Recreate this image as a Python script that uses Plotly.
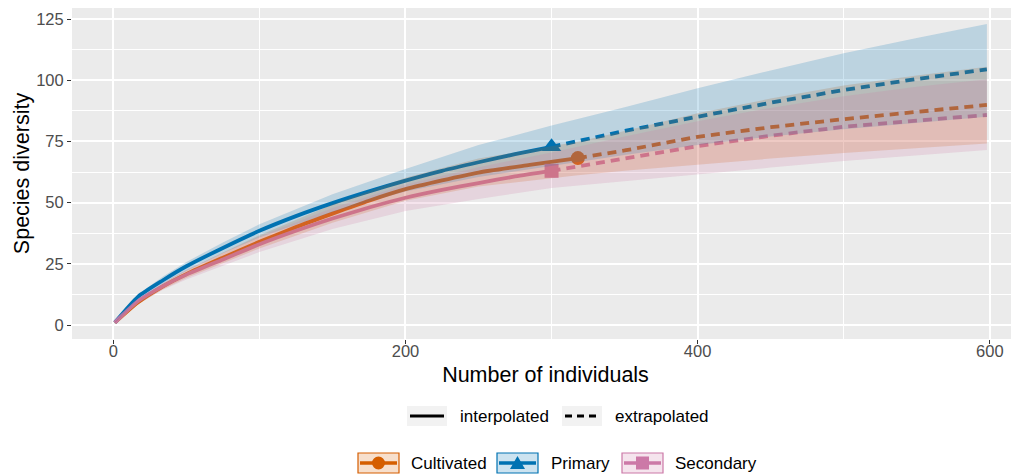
import plotly.graph_objects as go

# ---------------- data ----------------
groups = ["Cultivated", "Primary", "Secondary"]
colors = {"Cultivated": "#D55E00", "Primary": "#0072B2", "Secondary": "#CC79A7"}
fills = {"Cultivated": "rgba(213,94,0,0.2)", "Primary": "rgba(0,114,178,0.2)", "Secondary": "rgba(204,121,167,0.2)"}
symbols = {"Cultivated": "circle", "Primary": "triangle-up", "Secondary": "square"}

# interpolated (rarefaction) curves
cult_interp_x = [1, 17, 34, 50, 75, 100, 125, 150, 175, 200, 225, 250, 285, 318]
cult_interp_y = [1, 9.3, 15.8, 20.8, 27.5, 34, 40, 45.5, 50.8, 55.5, 59.1, 62.3, 65.4, 68.2]
prim_interp_x = [1, 17, 34, 50, 75, 100, 125, 150, 175, 200, 225, 250, 275, 300]
prim_interp_y = [1, 11.6, 18.3, 24, 31.5, 38.5, 44.5, 49.8, 54.6, 59, 63, 66.5, 69.8, 72.8]
seco_interp_x = [1, 17, 34, 50, 75, 100, 125, 150, 175, 200, 225, 250, 275, 300]
seco_interp_y = [1, 9.8, 15.9, 20.6, 26.8, 33, 38.5, 43.5, 48, 52, 55.2, 58, 60.7, 63]

# extrapolated curves
cult_extrap_x = [318, 350, 400, 450, 500, 550, 598]
cult_extrap_y = [68.2, 71.3, 76.9, 80.8, 84.1, 87.2, 89.9]
prim_extrap_x = [300, 350, 400, 450, 500, 550, 598]
prim_extrap_y = [72.8, 79.3, 85.1, 90.8, 96, 100.5, 104.4]
seco_extrap_x = [300, 350, 400, 450, 500, 550, 598]
seco_extrap_y = [63, 68.2, 73.1, 77.3, 81, 83.5, 85.8]

# observed sample (reference point)
obs_x = {"Cultivated": 318, "Primary": 300, "Secondary": 300}
obs_y = {"Cultivated": 68.2, "Primary": 72.8, "Secondary": 63}

# 95% confidence bands
cult_ci_x = [1, 17, 34, 50, 75, 100, 150, 200, 250, 318, 350, 400, 450, 500, 550, 598]
cult_ci_lo = [0.8, 8.5, 14.6, 19.2, 25.4, 31.3, 41.8, 50.8, 56.6, 61.2, 63, 65.6, 68, 70.3, 72.3, 74.2]
cult_ci_hi = [1.2, 10.1, 17, 22.4, 29.6, 36.7, 49.2, 60.2, 68, 74.9, 79.3, 86.5, 92.5, 97.8, 101.9, 105.5]
prim_ci_x = [1, 17, 34, 50, 75, 100, 150, 200, 250, 300, 350, 400, 450, 500, 550, 598]
prim_ci_lo = [0.8, 10.6, 16.8, 22.2, 29.3, 35.8, 46.2, 54.5, 60.5, 65, 69.5, 73.5, 77, 80, 82.7, 85.1]
prim_ci_hi = [1.2, 12.6, 19.8, 25.8, 33.7, 41.2, 53.4, 63.7, 73.5, 81.5, 89, 96.7, 104, 111, 117.2, 123]
seco_ci_x = [1, 17, 34, 50, 75, 100, 150, 200, 250, 300, 350, 400, 450, 500, 550, 598]
seco_ci_lo = [0.8, 8.8, 14.4, 18.6, 24.2, 29.8, 39.2, 46.6, 51.5, 56, 58.8, 61.5, 64.3, 67, 69.3, 71.5]
seco_ci_hi = [1.2, 10.8, 17.4, 22.6, 29.4, 36.2, 47.8, 57.4, 64.5, 70.5, 77, 83.2, 88.7, 93.5, 97.3, 100.4]

x_ticks = [0, 200, 400, 600]
y_ticks = [0, 25, 50, 75, 100, 125]
x_title = "Number of individuals"
y_title = "Species diversity"
linetype_labels = ["interpolated", "extrapolated"]

series = {
    "Cultivated": (cult_interp_x, cult_interp_y, cult_extrap_x, cult_extrap_y, cult_ci_x, cult_ci_lo, cult_ci_hi),
    "Primary": (prim_interp_x, prim_interp_y, prim_extrap_x, prim_extrap_y, prim_ci_x, prim_ci_lo, prim_ci_hi),
    "Secondary": (seco_interp_x, seco_interp_y, seco_extrap_x, seco_extrap_y, seco_ci_x, seco_ci_lo, seco_ci_hi),
}

FONT = "Liberation Sans, Arial, Helvetica, sans-serif"
fig = go.Figure()

# lines + markers (drawn first, ribbons overlay them as in ggiNEXT)
for g in groups:
    ix, iy, ex, ey, cx, lo, hi = series[g]
    fig.add_trace(go.Scatter(x=ix, y=iy, mode="lines", line=dict(color=colors[g], width=3.8, shape="spline", smoothing=0.6),
                             showlegend=False, hoverinfo="skip"))
    fig.add_trace(go.Scatter(x=ex, y=ey, mode="lines", line=dict(color=colors[g], width=3.8, dash="9px,6px"),
                             showlegend=False, hoverinfo="skip"))
for g in groups:
    fig.add_trace(go.Scatter(x=[obs_x[g]], y=[obs_y[g]], mode="markers",
                             marker=dict(color=colors[g], symbol=symbols[g], size=17 if g == "Primary" else 14,
                                         line=dict(width=0)),
                             showlegend=False, hoverinfo="skip"))
for g in groups:
    ix, iy, ex, ey, cx, lo, hi = series[g]
    fig.add_trace(go.Scatter(x=list(cx) + list(cx)[::-1], y=list(hi) + list(lo)[::-1], mode="lines",
                             fill="toself", fillcolor=fills[g], line=dict(width=0),
                             showlegend=False, hoverinfo="skip"))

# page has an 8px body margin: figure is offset by (8, 8)
OFF = 8
W, H = 1011, 467
ML, MR, MT, MB = 64, 0, 0, 136
PW, PH = W - ML - MR, H - MT - MB


def PX(x):  # page pixel -> paper
    return (x - OFF - ML) / PW


def PY(y):  # page pixel -> paper
    return (H - MB - (y - OFF)) / PH


shapes = []
annotations = []

# ---- linetype legend (row 1) ----
row1 = 416
for (bx0, bx1, tx, label, dash) in [(407, 447, 458, linetype_labels[0], "solid"),
                                     (562, 602, 613, linetype_labels[1], "7px,5px")]:
    shapes.append(dict(type="rect", xref="paper", yref="paper", x0=PX(bx0), x1=PX(bx1),
                       y0=PY(row1 + 10), y1=PY(row1 - 10), fillcolor="#F2F2F2", line=dict(width=0), layer="above"))
    shapes.append(dict(type="line", xref="paper", yref="paper", x0=PX(bx0 + 3), x1=PX(bx1 - 3),
                       y0=PY(row1), y1=PY(row1), line=dict(color="black", width=3.2, dash=dash), layer="above"))
    annotations.append(dict(text=label, xref="paper", yref="paper", x=PX(tx), y=PY(row1), xanchor="left",
                            yanchor="middle", showarrow=False, font=dict(size=17, color="black", family=FONT)))

# ---- group legend (row 2) ----
row2 = 463
for g, bx0, tx in [("Cultivated", 358, 409), ("Primary", 497, 549), ("Secondary", 622, 673)]:
    bx1 = bx0 + 41
    shapes.append(dict(type="rect", xref="paper", yref="paper", x0=PX(bx0), x1=PX(bx1),
                       y0=PY(row2 + 10), y1=PY(row2 - 10), fillcolor=fills[g],
                       line=dict(color=colors[g], width=1.2), layer="above"))
    shapes.append(dict(type="line", xref="paper", yref="paper", x0=PX(bx0 + 2), x1=PX(bx1 - 2),
                       y0=PY(row2), y1=PY(row2), line=dict(color=colors[g], width=3.6), layer="above"))
    cx = (bx0 + bx1) / 2
    if g == "Cultivated":
        shapes.append(dict(type="circle", xref="paper", yref="paper", x0=PX(cx - 6.5), x1=PX(cx + 6.5),
                           y0=PY(row2 + 6.5), y1=PY(row2 - 6.5), fillcolor=colors[g], line=dict(width=0),
                           layer="above"))
    elif g == "Primary":
        path = "M {:.5f} {:.5f} L {:.5f} {:.5f} L {:.5f} {:.5f} Z".format(
            PX(cx - 7.5), PY(row2 + 6), PX(cx + 7.5), PY(row2 + 6), PX(cx), PY(row2 - 7))
        shapes.append(dict(type="path", xref="paper", yref="paper", path=path, fillcolor=colors[g],
                           line=dict(width=0), layer="above"))
    else:
        shapes.append(dict(type="rect", xref="paper", yref="paper", x0=PX(cx - 6.5), x1=PX(cx + 6.5),
                           y0=PY(row2 + 6.5), y1=PY(row2 - 6.5), fillcolor=colors[g], line=dict(width=0),
                           layer="above"))
    annotations.append(dict(text=g, xref="paper", yref="paper", x=PX(tx), y=PY(row2), xanchor="left",
                            yanchor="middle", showarrow=False, font=dict(size=17, color="black", family=FONT)))

fig.update_layout(
    width=W, height=H,
    margin=dict(l=ML, r=MR, t=MT, b=MB, pad=0),
    paper_bgcolor="white", plot_bgcolor="#EBEBEB",
    font=dict(family=FONT, color="#4D4D4D"),
    showlegend=False,
    shapes=shapes, annotations=annotations,
    xaxis=dict(range=[-28.3, 620], tickvals=x_ticks, ticks="outside", ticklen=4, tickwidth=1.1,
               tickcolor="#333333", tickfont=dict(size=16.5, color="#4D4D4D"), ticklabelstandoff=-7,
               showgrid=True, gridcolor="white", gridwidth=1.6, zeroline=False, showline=False,
               minor=dict(tickvals=[100, 300, 500], showgrid=True, gridcolor="white", gridwidth=0.8, ticks=""),
               title=dict(text=x_title, font=dict(size=21.5, color="black"), standoff=8)),
    yaxis=dict(range=[-5.7, 129.5], tickvals=y_ticks, ticks="outside", ticklen=4, tickwidth=1.1,
               tickcolor="#333333", tickfont=dict(size=16.5, color="#4D4D4D"),
               showgrid=True, gridcolor="white", gridwidth=1.6, zeroline=False, showline=False,
               minor=dict(tickvals=[12.5, 37.5, 62.5, 87.5, 112.5], showgrid=True, gridcolor="white",
                          gridwidth=0.8, ticks=""),
               title=dict(text=y_title, font=dict(size=21.5, color="black"), standoff=0)),
)

fig.write_html("out.html")
